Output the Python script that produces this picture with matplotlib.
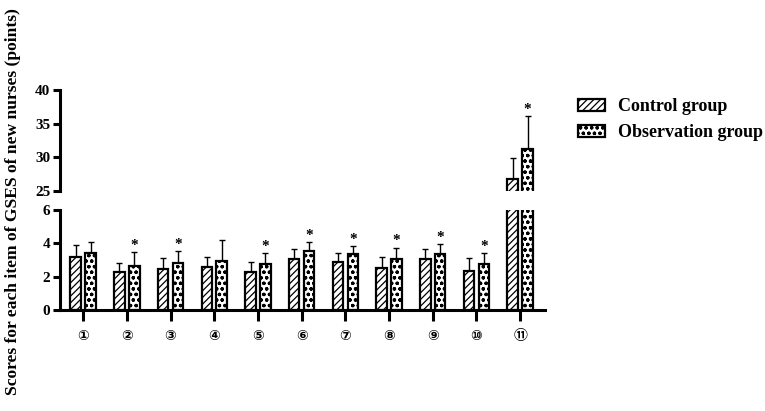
import matplotlib
matplotlib.use("Agg")
import matplotlib.pyplot as plt
import numpy as np
from matplotlib.patches import Patch

items = ["①", "②", "③", "④", "⑤", "⑥", "⑦", "⑧", "⑨", "⑩", "⑪"]
control_mean = [3.2, 2.3, 2.45, 2.6, 2.3, 3.05, 2.9, 2.55, 3.05, 2.35, 26.8]
control_sd = [0.7, 0.5, 0.65, 0.6, 0.6, 0.6, 0.5, 0.65, 0.6, 0.75, 3.1]
obs_mean = [3.4, 2.65, 2.85, 2.95, 2.75, 3.55, 3.35, 3.05, 3.35, 2.75, 31.3]
obs_sd = [0.7, 0.85, 0.7, 1.25, 0.65, 0.55, 0.5, 0.7, 0.6, 0.65, 4.9]
significant = [False, True, True, False, True, True, True, True, True, True, True]

plt.rcParams['hatch.linewidth'] = 0.9
serif = ['Liberation Serif', 'DejaVu Serif']

fig = plt.figure(figsize=(7.65, 4.11), dpi=100)
L, W = 60/765, 485/765
ax_top = fig.add_axes([L, 1-191/411, W, 101/411])
ax_bot = fig.add_axes([L, 1-310/411, W, 100/411])
ax_top.set_ylim(25, 40)
ax_bot.set_ylim(0, 6)

x = np.arange(1, len(items)+1)
off = 0.17
bw = 0.24
for ax in (ax_top, ax_bot):
    ax.bar(x-off, control_mean, bw, color='white', edgecolor='black', linewidth=1.6,
           hatch='/////', zorder=2)
    ax.bar(x+off, obs_mean, bw, color='white', edgecolor='black', linewidth=1.6,
           hatch='ooo', zorder=2)
    ax.errorbar(x-off, control_mean, yerr=[np.zeros(len(x)), control_sd], fmt='none',
                ecolor='black', elinewidth=1.0, capsize=2.5, capthick=1.0, zorder=1)
    ax.errorbar(x+off, obs_mean, yerr=[np.zeros(len(x)), obs_sd], fmt='none',
                ecolor='black', elinewidth=1.0, capsize=2.5, capthick=1.0, zorder=1)
    lo, hi = ax.get_ylim()
    for i, s in enumerate(significant):
        yy = obs_mean[i]+obs_sd[i]
        if s and lo <= yy <= hi:
            ax.text(x[i]+off, yy, '*', ha='center', va='bottom',
                    fontsize=11, fontweight='bold', family=serif)
    ax.set_xlim(0.47, 11.57)
    for sp in ['top', 'right']:
        ax.spines[sp].set_visible(False)
    ax.spines['left'].set_linewidth(2.2)
    ax.spines['bottom'].set_linewidth(2.2)
    ax.tick_params(axis='y', width=2.2, length=5, labelsize=11, pad=2)

ax_top.set_yticks([25, 30, 35, 40])
ax_top.spines['bottom'].set_visible(False)
ax_top.set_xticks([])
ax_bot.set_yticks([0, 2, 4, 6])
ax_bot.set_xticks(x)
ax_bot.set_xticklabels(items, family=['DejaVu Sans', 'Noto Sans CJK SC'], fontsize=10,
                       fontweight='bold')
ax_bot.tick_params(axis='x', width=2.2, length=8, pad=6)
for ax in (ax_top, ax_bot):
    for lab in ax.get_yticklabels():
        lab.set_fontfamily(serif)
        lab.set_fontweight('bold')

fig.text(0.017, 0.51, 'Scores for each item of GSES of new nurses (points)', rotation=90,
         ha='center', va='center', fontsize=12.6, fontweight='bold', family=serif)

handles = [Patch(facecolor='white', edgecolor='black', hatch='/////', linewidth=1.6),
           Patch(facecolor='white', edgecolor='black', hatch='ooo', linewidth=1.6)]
fig.legend(handles, ['Control group', 'Observation group'], loc='upper left',
           bbox_to_anchor=(562/765, 1-82/411), frameon=False,
           prop={'family': serif, 'weight': 'bold', 'size': 13},
           handlelength=1.5, handleheight=0.6, labelspacing=0.5, handletextpad=0.7)

fig.savefig('out.png', dpi=100)
